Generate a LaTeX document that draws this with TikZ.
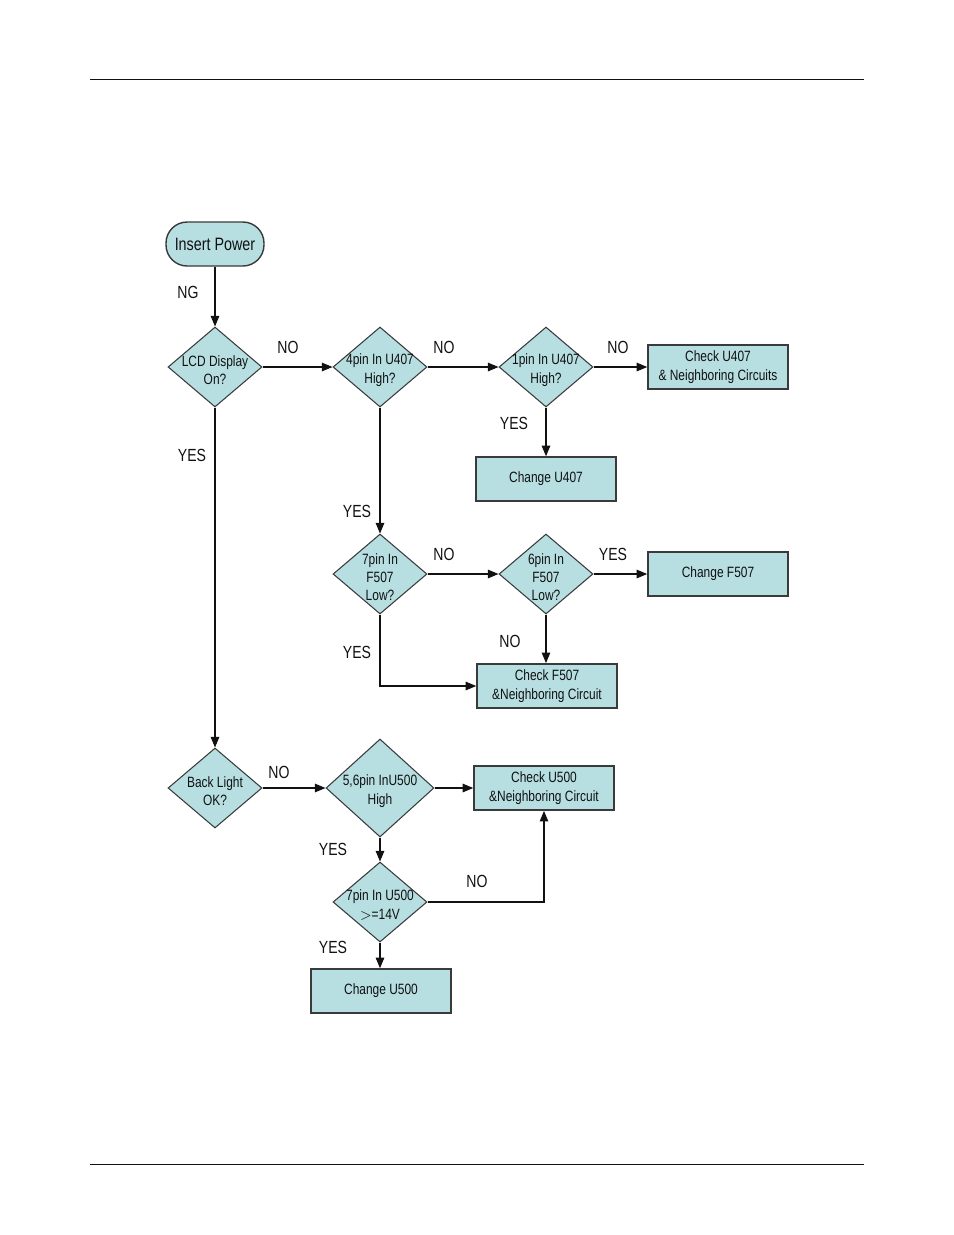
\documentclass[tikz,border=0pt]{standalone}
\usepackage{fontspec}
\setmainfont{Liberation Sans}[FakeStretch=0.8]
\usetikzlibrary{arrows.meta,shapes.geometric,positioning}
\definecolor{ink}{HTML}{111111}
\definecolor{edge}{HTML}{3A3A3A}
\definecolor{cyanfill}{HTML}{B7DFE2}
\tikzset{
  start/.style={
    draw=edge,
    fill=cyanfill,
    line width=0.8pt,
    rounded corners=12pt,
    minimum width=1.96cm,
    minimum height=0.88cm,
    text=ink,
    font=\fontsize{10.2}{12}\selectfont
  },
  decision/.style={
    diamond,
    draw=edge,
    fill=cyanfill,
    line width=0.6pt,
    inner sep=0pt,
    minimum width=1.88cm,
    minimum height=1.6cm
  },
  bigdecision/.style={
    decision,
    minimum width=2.16cm,
    minimum height=1.96cm
  },
  dtext/.style={
    text=ink,
    font=\fontsize{8.5}{10.4}\selectfont,
    align=center,
    inner sep=0pt
  },
  action/.style={
    draw=edge,
    fill=cyanfill,
    line width=0.9pt,
    minimum width=2.8cm,
    minimum height=0.88cm,
    text=ink,
    font=\fontsize{8.5}{10.6}\selectfont,
    align=center
  },
  answer/.style={
    text=ink,
    font=\fontsize{10}{11.5}\selectfont
  },
  arrow/.style={
    -{Triangle[length=2.1mm,width=1.7mm]},
    draw=ink,
    line width=0.6pt
  }
}

\begin{document}
\begin{tikzpicture}[x=0.02cm,y=-0.02cm]
  \useasboundingbox (0,0) rectangle (954,1235);

  % Page rules
  \draw[ink, line width=0.5pt] (90,79) -- (864,79);
  \draw[ink, line width=0.5pt] (90,1164) -- (864,1164);

  % Start and LCD branch
  \node[start] (power) at (215,244) {Insert Power};
  \node[decision] (lcd) at (215,367) {};
  \node[dtext] (lcdTxt) at (215,370) {LCD Display\\On?};
  \node[decision] (pin4) at (380,367) {};
  \node[dtext] (pin4Txt) at (380,370) {4pin In U407\\High?};
  \node[decision] (pin1) at (546,367) {};
  \node[dtext] (pin1Txt) at (546,370) {1pin In U407\\High?};
  \node[action] (chkU407) at (718,367) {Check U407\\ \& Neighboring Circuits};
  \node[action] (chgU407) at (546,479) {Change U407};

  % F507 checks
  \node[decision] (pin7f) at (380,574) {};
  \node[dtext] (pin7fTxt) at (380,577) {7pin In\\F507\\Low?};
  \node[decision] (pin6f) at (546,574) {};
  \node[dtext] (pin6fTxt) at (546,577) {6pin In\\F507\\Low?};
  \node[action] (chgF507) at (718,574) {Change F507};
  \node[action] (chkF507) at (547,686) {Check F507\\\&Neighboring Circuit};

  % Back light branch
  \node[decision] (light) at (215,788) {};
  \node[dtext] (lightTxt) at (215,791) {Back Light\\OK?};
  \node[bigdecision] (pin56) at (380,788) {};
  \node[dtext] (pin56Txt) at (380,791) {5,6pin InU500\\High};
  \node[action] (chkU500) at (544,788) {Check U500\\\&Neighboring Circuit};
  \node[decision] (pin7u) at (380,902) {};
  \node[dtext] (pin7uTxt) at (380,905) {7pin In U500\\$>$=14V};
  \node[action] (chgU500) at (381,991) {Change U500};

  % Connectors
  \draw[arrow] (power) -- (lcd);
  \draw[arrow] (lcd.east) -- (pin4.west);
  \draw[arrow] (pin4.east) -- (pin1.west);
  \draw[arrow] (pin1.east) -- (chkU407.west);
  \draw[arrow] (pin1.south) -- (chgU407.north);
  \draw[arrow] (lcd.south) -- (light.north);
  \draw[arrow] (pin4.south) -- (pin7f.north);
  \draw[arrow] (pin7f.east) -- (pin6f.west);
  \draw[arrow] (pin6f.east) -- (chgF507.west);
  \draw[arrow] (pin6f.south) -- (pin6f.south |- chkF507.north);
  \draw[arrow] (pin7f.south) |- (chkF507.west);
  \draw[arrow] (light.east) -- (pin56.west);
  \draw[arrow] (pin56.east) -- (chkU500.west);
  \draw[arrow] (pin56.south) -- (pin7u.north);
  \draw[arrow] (pin7u.east) -| (chkU500.south);
  \draw[arrow] (pin7u.south) -- (pin7u.south |- chgU500.north);

  % Answers
  \node[answer] (ngA) at (188,292) {NG};
  \node[answer] (noA) at (288,347) {NO};
  \node[answer] (noB) at (444,347) {NO};
  \node[answer] (noC) at (618,347) {NO};
  \node[answer] (yesA) at (514,423) {YES};
  \node[answer] (yesB) at (192,455) {YES};
  \node[answer] (yesC) at (357,511) {YES};
  \node[answer] (noD) at (444,554) {NO};
  \node[answer] (yesD) at (613,554) {YES};
  \node[answer] (noE) at (510,641) {NO};
  \node[answer] (yesE) at (357,652) {YES};
  \node[answer] (noF) at (279,772) {NO};
  \node[answer] (yesF) at (333,849) {YES};
  \node[answer] (noG) at (477,881) {NO};
  \node[answer] (yesG) at (333,947) {YES};
\end{tikzpicture}
\end{document}
